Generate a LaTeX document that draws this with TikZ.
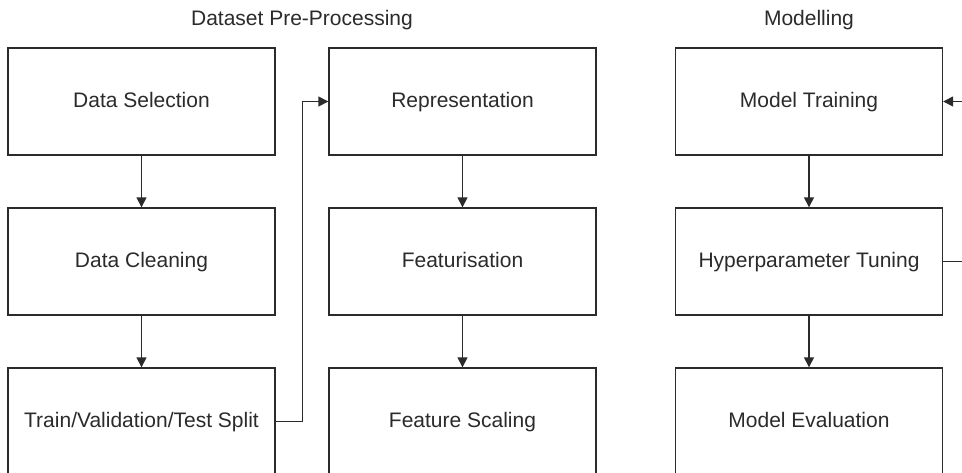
\documentclass[tikz,border=0pt]{standalone}
\usepackage{fontspec}
\setmainfont{Liberation Sans}
\usetikzlibrary{arrows.meta}
\definecolor{ink}{HTML}{2B2B2B}
\tikzset{
  stepbox/.style={draw=ink, line width=1.4pt, minimum width=267pt, minimum height=107pt,
    inner sep=0pt, text height=15pt, text depth=4pt,
    font=\fontsize{21}{25}\selectfont, text=ink},
  heading/.style={font=\fontsize{21}{25}\selectfont, text=ink},
  link/.style={draw=ink, line width=1.4pt, -{Triangle[length=10pt,width=10pt]}},
}
\begin{document}
\begin{tikzpicture}[x=1pt,y=-1pt]
\useasboundingbox (0,0) rectangle (962,472);
\clip (0,0) rectangle (962,472);
\fill[white] (0,0) rectangle (962,472);

\node[heading] (h1) at (302,20) {Dataset Pre-Processing};
\node[heading] (h2) at (809,20) {Modelling};

\node[stepbox] (ds) at (141.5,101.5) {Data Selection};
\node[stepbox] (dc) at (141.5,261.5) {Data Cleaning};
\node[stepbox] (sp) at (141.5,421.5) {Train/Validation/Test Split};

\node[stepbox] (rp) at (462.5,101.5) {Representation};
\node[stepbox] (ft) at (462.5,261.5) {Featurisation};
\node[stepbox] (fs) at (462.5,421.5) {Feature Scaling};

\node[stepbox] (mt) at (809,101.5) {Model Training};
\node[stepbox] (hp) at (809,261.5) {Hyperparameter Tuning};
\node[stepbox] (me) at (809,421.5) {Model Evaluation};

\draw[link] (ds) -- (dc);
\draw[link] (dc) -- (sp);
\draw[link] (rp) -- (ft);
\draw[link] (ft) -- (fs);
\draw[link] (mt) -- (hp);
\draw[link] (hp) -- (me);

\draw[link] (sp.east) -- ++(27,0) |- (rp.west);

\coordinate (loop) at (985,0);
\draw[link] (hp.east) -- (hp.east -| loop) |- (mt.east);
\end{tikzpicture}
\end{document}
